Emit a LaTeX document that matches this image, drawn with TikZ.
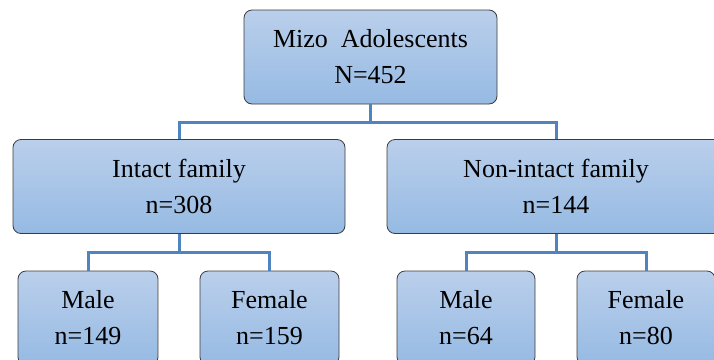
\documentclass[tikz,border=0pt]{standalone}
\usepackage{fontspec}
\setmainfont{Liberation Serif}
\definecolor{boxtop}{RGB}{186,207,235}
\definecolor{boxbot}{RGB}{150,186,227}
\definecolor{boxline}{RGB}{60,60,60}
\definecolor{connline}{RGB}{80,132,190}
\tikzset{
  orgbox/.style={draw=boxline, line width=0.8pt, rounded corners=8pt,
    top color=boxtop, bottom color=boxbot, align=center, inner sep=0pt,
    font=\fontsize{26}{36}\selectfont, minimum height=94pt},
  conn/.style={draw=connline, line width=3pt}
}
\begin{document}
\begin{tikzpicture}[x=1pt,y=-1pt]
\useasboundingbox (0,0) rectangle (714,359);
\clip (0,0) rectangle (714,359);
\fill[white] (0,0) rectangle (714,359);
\node[orgbox, minimum width=253pt] (top) at (370.5,57) {Mizo\ \ Adolescents\\N=452};
\node[orgbox, minimum width=332pt] (intact) at (179,186.5) {Intact family\\n=308};
\node[orgbox, minimum width=338pt] (nonintact) at (556,186.5) {Non-intact family\\n=144};
\node[orgbox, minimum width=140pt] (male1) at (88,318) {Male\\n=149};
\node[orgbox, minimum width=139pt] (female1) at (269.5,318) {Female\\n=159};
\node[orgbox, minimum width=138pt] (male2) at (466,318) {Male\\n=64};
\node[orgbox, minimum width=138pt] (female2) at (646,318) {Female\\n=80};
\coordinate (j0) at (370.5,122);
\coordinate (j1) at (179,252);
\coordinate (j2) at (556,252);
\draw[conn] (top.south) -- (j0);
\draw[conn] (j0) -| (intact.north);
\draw[conn] (j0) -| (nonintact.north);
\draw[conn] (intact.south) -- (j1);
\draw[conn] (j1) -| (male1.north);
\draw[conn] (j1) -| (female1.north);
\draw[conn] (nonintact.south) -- (j2);
\draw[conn] (j2) -| (male2.north);
\draw[conn] (j2) -| (female2.north);
\end{tikzpicture}
\end{document}
